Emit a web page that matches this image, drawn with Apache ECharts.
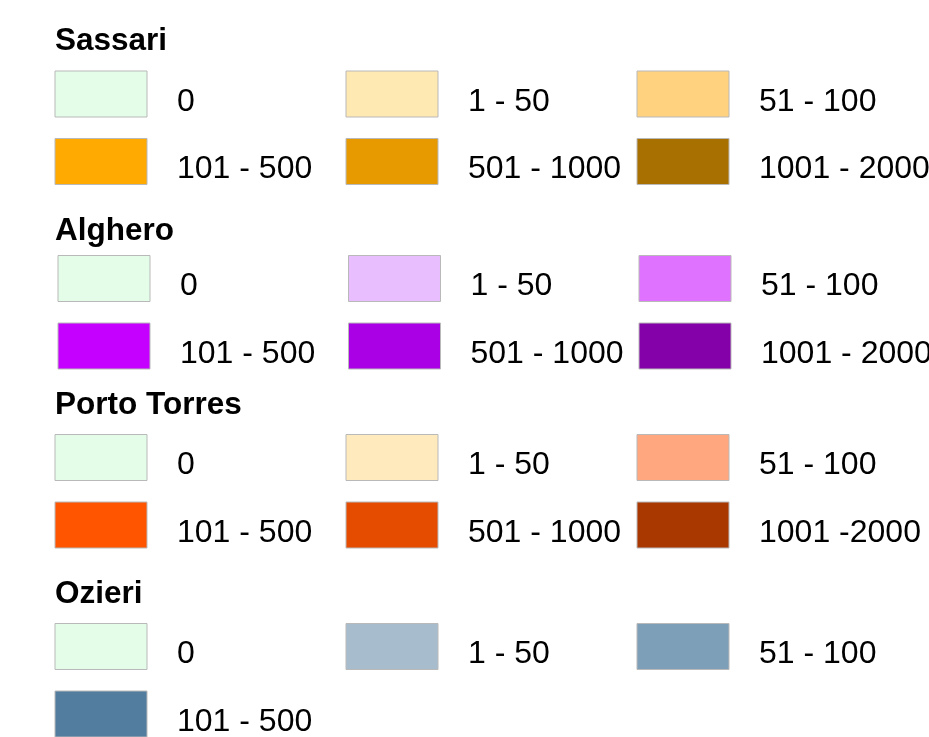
<!DOCTYPE html>
<html>
<head>
<meta charset="utf-8">
<script src="https://cdn.jsdelivr.net/npm/echarts@6/dist/echarts.min.js"></script>
<style>
html,body{margin:0;padding:0;background:#fff;}
#chart{width:929px;height:737px;}
</style>
</head>
<body>
<div id="chart"></div>
<script>
// ---- data ----
const groupNames = ['Sassari', 'Alghero', 'Porto Torres', 'Ozieri'];

const sassariLabels = ['0', '1 - 50', '51 - 100', '101 - 500', '501 - 1000', '1001 - 2000'];
const sassariColors = ['#E3FDE8', '#FFE9B2', '#FFD27F', '#FFAA00', '#E69A00', '#A87000'];

const algheroLabels = ['0', '1 - 50', '51 - 100', '101 - 500', '501 - 1000', '1001 - 2000'];
const algheroColors = ['#E3FDE8', '#E8BEFF', '#DF73FF', '#C500FF', '#A900E6', '#8400A8'];

const portoTorresLabels = ['0', '1 - 50', '51 - 100', '101 - 500', '501 - 1000', '1001 -2000'];
const portoTorresColors = ['#E3FDE8', '#FFEABE', '#FFA77F', '#FF5500', '#E64C00', '#A83800'];

const ozieriLabels = ['0', '1 - 50', '51 - 100', '101 - 500'];
const ozieriColors = ['#E3FDE8', '#A7BDCD', '#7E9FB8', '#537D9F'];

// ---- layout (px) ----
const FONT = '"Liberation Sans", Arial, sans-serif';
const groupLayout = [
  { left: 101, width: 582, top: 94,    titleY: 41 },
  { left: 104, width: 581, top: 278.5, titleY: 231 },
  { left: 101, width: 582, top: 457.5, titleY: 405.5 },
  { left: 101, width: 582, top: 646.5, titleY: 594 }
];
const groupsData = [
  [sassariLabels, sassariColors],
  [algheroLabels, algheroColors],
  [portoTorresLabels, portoTorresColors],
  [ozieriLabels, ozieriColors]
];

const grids = [], xAxes = [], yAxes = [], series = [], graphics = [];
groupsData.forEach(function (g, gi) {
  const L = groupLayout[gi];
  grids.push({ left: L.left, top: L.top, width: L.width, height: 67.5, containLabel: false });
  xAxes.push({ gridIndex: gi, type: 'value', min: 0, max: 2, show: false });
  yAxes.push({ gridIndex: gi, type: 'value', min: 0, max: 1, inverse: true, show: false });
  const labels = g[0], colors = g[1];
  const data = labels.map(function (lab, i) {
    return { value: [i % 3, Math.floor(i / 3)], name: lab, itemStyle: { color: colors[i] } };
  });
  series.push({
    type: 'custom',
    xAxisIndex: gi,
    yAxisIndex: gi,
    clip: false,
    silent: true,
    data: data,
    renderItem: function (params, api) {
      const p = api.coord([api.value(0), api.value(1)]);
      const idx = params.dataIndex;
      return {
        type: 'group',
        children: [
          {
            type: 'rect',
            shape: { x: p[0] - 46, y: p[1] - 23, width: 92, height: 46 },
            style: { fill: colors[idx], stroke: '#B9B9B9', lineWidth: 1 }
          },
          {
            type: 'text',
            x: p[0] + 76,
            y: p[1] + 8,
            style: {
              text: labels[idx],
              fontSize: 32,
              fontFamily: FONT,
              fill: '#000',
              verticalAlign: 'middle',
              align: 'left'
            }
          }
        ]
      };
    }
  });
  graphics.push({
    type: 'text',
    x: 55,
    y: L.titleY,
    style: {
      text: groupNames[gi],
      fontSize: 31.5,
      fontWeight: 'bold',
      fontFamily: FONT,
      fill: '#000',
      verticalAlign: 'middle',
      align: 'left'
    }
  });
});

const chart = echarts.init(document.getElementById('chart'), null, { renderer: 'canvas' });
chart.setOption({
  backgroundColor: '#fff',
  animation: false,
  grid: grids,
  xAxis: xAxes,
  yAxis: yAxes,
  series: series,
  graphic: graphics
});
</script>
</body>
</html>
